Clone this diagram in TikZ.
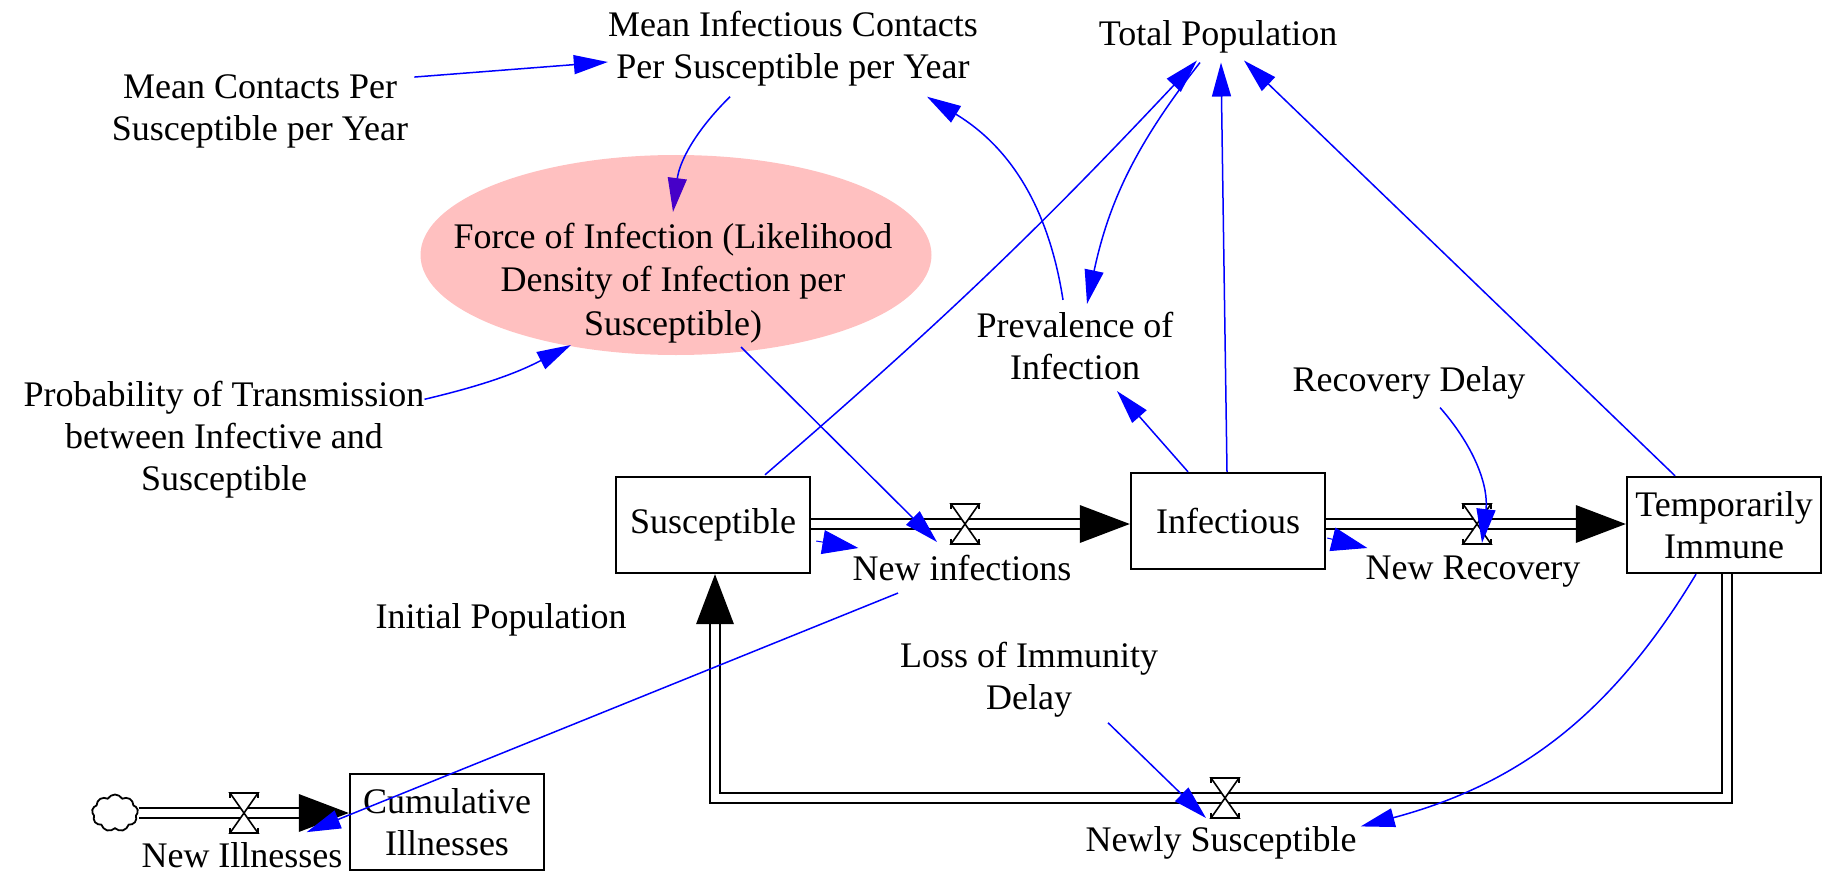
\documentclass[tikz,border=0pt]{standalone}
\usepackage{fontspec}
\setmainfont{Liberation Serif}
\usetikzlibrary{arrows.meta,shapes.geometric,shapes.symbols}
\definecolor{pinkfill}{RGB}{255,192,192}
\definecolor{linkblue}{RGB}{0,0,255}
\definecolor{tipviolet}{RGB}{70,0,200}
\tikzset{
  lbl/.style={font=\fontsize{36}{42}\selectfont, align=center, inner sep=0pt, text=black},
  stock/.style={lbl, draw=black, line width=2.4pt, fill=white, minimum width=194pt, minimum height=96pt},
  link/.style={draw=linkblue, line width=1.5pt, -{Triangle[length=34pt,width=19pt]}},
  stub/.style={draw=linkblue, line width=1pt, -{Triangle[length=36pt,width=24pt]}},
  pipe/.style={draw=black, double=white, line width=2.3pt, double distance=8pt, line join=miter},
  pipetip/.style={-{Triangle[length=50pt,width=38pt,line width=0pt]}},
  valve/.pic={
    \draw[line width=1.6pt, fill=white, line join=miter] (-14,-20) -- (14,-20) -- (-14,20) -- (14,20) -- cycle;
    \draw[line width=1.6pt] (-14,-20) -- (-14,-15) (14,-20) -- (14,-15) (-14,20) -- (-14,15) (14,20) -- (14,15);
  },
}
\begin{document}
\begin{tikzpicture}[x=1pt,y=-1pt]
\useasboundingbox (0,0) rectangle (1831,872);
% auxiliary ellipse
\node[ellipse, fill=pinkfill, minimum width=511pt, minimum height=200pt, inner sep=0pt] (F) at (676,255) {};
\node[lbl, font=\fontsize{36}{43.5}\selectfont] (Ftxt) at (673,283) {Force of Infection (Likelihood\\Density of Infection per\\Susceptible)};
% variables
\node[lbl] (MIC) at (793,49) {Mean Infectious Contacts\\Per Susceptible per Year};
\node[lbl] (TP) at (1218,37) {Total Population};
\node[lbl] (MC) at (260,111) {Mean Contacts Per\\Susceptible per Year};
\node[lbl] (PI) at (1075,346) {Prevalence of\\Infection};
\node[lbl] (RD) at (1409,383) {Recovery Delay};
\node[lbl] (PT) at (224,440) {Probability of Transmission\\between Infective and\\Susceptible};
\node[lbl] (IP) at (501,620) {Initial Population};
\node[lbl] (LID) at (1029,680) {Loss of Immunity\\Delay};
\node[lbl] (NI) at (962,568) {New infections};
\node[lbl] (NR) at (1473,572) {New Recovery};
\node[lbl] (NS) at (1221,843) {Newly Susceptible};
\node[lbl] (NIl) at (242,855) {New Illnesses};
% stocks
\node[stock] (S) at (713,525) {Susceptible};
\node[stock] (I) at (1228,521) {Infectious};
\node[stock] (T) at (1724,525) {Temporarily\\Immune};
\node[stock] (C) at (447,822) {Cumulative\\Illnesses};
\node[cloud, cloud puffs=9, cloud puff arc=120, aspect=1.25, draw, line width=1.8pt, minimum width=46pt, minimum height=37pt, inner sep=0pt] (src) at (115,813) {};
% flow points
\coordinate (v1) at (965,524);
\coordinate (v2) at (1477,524);
\coordinate (v3) at (1225,798);
\coordinate (v4) at (244,813);
\coordinate (tr) at (1727,798);
\coordinate (bl) at (715,798);
% pipes
\draw[pipe,pipetip] (S.east|-v1) -- (I.west|-v1);
\draw[pipe,pipetip] (I.east|-v2) -- (T.west|-v2);
\draw[pipe,pipetip] (src.east|-v4) -- (C.west|-v4);
\draw[pipe,pipetip] (T.south-|tr) -- (tr) -- (bl) -- (S.south-|bl);
% valves
\pic at (v1) {valve};
\pic at (v2) {valve};
\pic at (v3) {valve};
\pic at (v4) {valve};
% links
\draw[link] ([shift={(6,3)}]MC.north east) -- ([shift={(0,13)}]MIC.west);
\draw[link, -{Triangle[length=34pt,width=19pt,color=tipviolet]}] ([shift={(-63,10)}]MIC.south) to[bend right=19] ([shift={(-3,-43)}]F.center);
\draw[link] ([shift={(0,18)}]PT.north east) to[bend right=7] ([shift={(-105,90)}]F.center);
\draw[link] ([shift={(65,92)}]F.center) -- ([shift={(-28,18)}]v1);
\draw[link] ([shift={(52,-1)}]S.north) to[bend right=3] ([shift={(-21,7)}]TP.south);
\draw[link] ([shift={(-1,0)}]I.north) -- ([shift={(3,9)}]TP.south);
\draw[link] ([shift={(-49,0)}]T.north) -- ([shift={(26,7)}]TP.south);
\draw[link] ([shift={(-18,9)}]TP.south) to[bend right=13] ([shift={(12,-8)}]PI.north);
\draw[link] ([shift={(-12,-12)}]PI.north) to[bend right=25] ([shift={(134,10)}]MIC.south);
\draw[link] ([shift={(-40,0)}]I.north) -- ([shift={(42,11)}]PI.south);
\draw[link] ([shift={(31,8)}]RD.south) to[bend left=24] ([shift={(5,19)}]v2);
\draw[link] ([shift={(79,5)}]LID.south) -- ([shift={(-19,20)}]v3);
\draw[link] ([shift={(-28,0)}]T.south) to[bend left=22] ([shift={(4,0)}]NS.north east);
\draw[link] ([shift={(-64,12)}]NI.south) -- ([shift={(-36,-10)}]NIl.north east);
\draw[stub] ([shift={(5,16)}]S.east) -- ([shift={(6,-20)}]NI.west);
\draw[stub] ([shift={(1,17)}]I.east) -- ([shift={(2,-24)}]NR.west);
\end{tikzpicture}
\end{document}
